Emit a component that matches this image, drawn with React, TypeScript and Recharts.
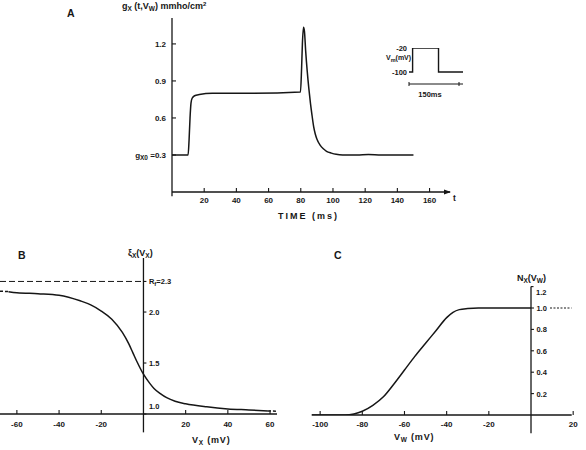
import React from 'react';
import { LineChart, Line, XAxis, YAxis, ReferenceLine, ReferenceDot } from 'recharts';

const INK = '#161616';
const FONT = '"Liberation Sans", Arial, sans-serif';

// A: g_X(t) during a clamp step to -20 mV
const aTime = [0, 10, 10.6, 11.2, 11.8, 12.5, 14, 17, 25, 50, 79.8, 80.5, 81, 81.7, 82.3, 83, 84, 85, 86, 87, 88, 89, 90, 92, 94, 96, 99, 102, 106, 115, 122, 130, 150];
const aG = [0.3, 0.3, 0.42, 0.6, 0.72, 0.76, 0.78, 0.79, 0.8, 0.8, 0.81, 1.0, 1.2, 1.335, 1.3, 1.15, 0.98, 0.84, 0.72, 0.62, 0.53, 0.47, 0.43, 0.38, 0.35, 0.33, 0.315, 0.305, 0.3, 0.3, 0.303, 0.3, 0.3];
const aTicksX = [20, 40, 60, 80, 100, 120, 140, 160];
const aTicksY = [0.3, 0.6, 0.9, 1.2];

// inset: voltage protocol
const stepTime = [0, 10, 10, 82, 82, 150];
const stepVm = [-100, -100, -20, -20, -100, -100];

// B: xi_X(V_X)
const bVx = [-64, -60, -50, -40, -30, -25, -20, -15, -10, -7, -5, -3, 0, 3, 5, 8, 11, 15, 20, 30, 40, 50, 59];
const bXi = [2.2, 2.19, 2.18, 2.165, 2.11, 2.07, 2.01, 1.93, 1.8, 1.69, 1.6, 1.51, 1.39, 1.3, 1.25, 1.2, 1.16, 1.125, 1.1, 1.07, 1.05, 1.04, 1.03];
const bLeftVx = [-68, -64];
const bLeftXi = [2.205, 2.2];
const bRightVx = [59, 63];
const bRightXi = [1.03, 1.028];
const bTicksX = [-60, -40, -20, 20, 40, 60];
const bTicksY = [1.5, 2.0];
const bRf = 2.3;

// C: N_X(V_W)
const cVw = [-104, -88, -84, -80, -75, -70, -65, -60, -55, -50, -45, -40, -37, -34, -30, -25, -20, 0];
const cN = [0, 0, 0.01, 0.035, 0.09, 0.17, 0.29, 0.42, 0.55, 0.67, 0.79, 0.91, 0.96, 0.985, 0.995, 1.0, 1.0, 1.0];
const cTailVw = [9, 19.3];
const cTailN = [1.0, 1.0];
const cTicksX = [-100, -80, -60, -40, -20, 20];
const cTicksY = [0.2, 0.4, 0.6, 0.8, 1.0];

const zip = (xs: number[], ys: number[]) => xs.map((x, i) => ({ x, y: ys[i] }));

const txt = { fontFamily: FONT, fill: INK, fontWeight: 600 };

const makeBottomTick = (gap: number) => (props: any) => {
  const { x, y, payload } = props;
  return (
    <g>
      <line x1={x} y1={y} x2={x} y2={y - 4} stroke={INK} strokeWidth={1.1} />
      <text x={x} y={y + gap} textAnchor="middle" fontSize={8} {...txt}>
        {payload.value}
      </text>
    </g>
  );
};

const ATickY = (props: any) => {
  const { x, y, payload } = props;
  return (
    <g>
      <line x1={x} y1={y} x2={x + 4} y2={y} stroke={INK} strokeWidth={1.1} />
      <text x={x - 6} y={y + 3} textAnchor="end" fontSize={8} {...txt}>
        {payload.value === 0.3 ? (
          <>
            g<tspan dy={2} fontSize={6.5}>X0</tspan>
            <tspan dy={-2}> =0.3</tspan>
          </>
        ) : (
          payload.value.toFixed(1)
        )}
      </text>
    </g>
  );
};

const SideLabel = (props: any) => {
  const { viewBox, text, dy = 0, sub } = props;
  const x = viewBox.x + viewBox.width + 2.5;
  const y = viewBox.y + viewBox.height / 2 + 3 + dy;
  return (
    <text x={x} y={y} fontSize={7.5} {...txt}>
      {sub ? (
        <>
          R<tspan dy={2} fontSize={6}>f</tspan>
          <tspan dy={-2}>=2.3</tspan>
        </>
      ) : (
        text
      )}
    </text>
  );
};

const ArrowHead = (props: any) => {
  const { cx, cy } = props;
  return (
    <g>
      <path d={`M${cx - 6},${cy - 2.5}L${cx + 1},${cy}L${cx - 6},${cy + 2.5}Z`} fill={INK} />
      <text x={cx + 3} y={cy + 9} fontSize={8.5} {...txt}>
        t
      </text>
    </g>
  );
};

const lineProps = {
  type: 'monotone' as const,
  dataKey: 'y',
  stroke: INK,
  strokeWidth: 1.5,
  dot: false,
  isAnimationActive: false,
};

export default function App() {
  const aData = zip(aTime, aG);
  const stepData = zip(stepTime, stepVm);

  return (
    <div style={{ position: 'absolute', left: 0, top: 0, width: 586, height: 450, background: '#fff', fontFamily: FONT }}>
      {/* panel A */}
      <LineChart width={586} height={230} data={aData} margin={{ top: 18, right: 136, left: 112, bottom: 8 }} style={{ position: 'absolute', left: 0, top: 0 }}>
        <XAxis
          type="number"
          dataKey="x"
          domain={[0, 172.7]}
          allowDataOverflow
          ticks={aTicksX}
          height={30}
          axisLine={{ stroke: INK, strokeWidth: 1.3 }}
          tickLine={false}
          tickSize={0}
          tickMargin={0}
          tick={makeBottomTick(11)}
        />
        <YAxis
          type="number"
          domain={[0, 1.41]}
          allowDataOverflow
          ticks={aTicksY}
          width={60}
          axisLine={{ stroke: INK, strokeWidth: 1.3 }}
          tickLine={false}
          tickSize={0}
          tickMargin={0}
          tick={ATickY}
        />
        <ReferenceLine segment={[{ x: 0, y: -0.035 }, { x: 0, y: 0 }]} stroke={INK} strokeWidth={1.3} ifOverflow="visible" />
        <ReferenceDot x={172.7} y={0} r={0} ifOverflow="visible" shape={ArrowHead} />
        <Line {...lineProps} />
        <text x={67} y={17} fontSize={10.5} {...txt} fontWeight="bold">A</text>
        <text x={122} y={9} fontSize={9} {...txt}>
          g<tspan dy={2} fontSize={6.5}>X</tspan>
          <tspan dy={-2}> (t,V</tspan>
          <tspan dy={2} fontSize={6.5}>W</tspan>
          <tspan dy={-2}>) mmho/cm</tspan>
          <tspan dy={-3} fontSize={6}>2</tspan>
        </text>
        <text x={278} y={219} fontSize={9} letterSpacing={2} {...txt}>TIME (ms)</text>
      </LineChart>

      {/* inset: voltage step */}
      <LineChart width={110} height={75} data={stepData} margin={{ top: 18, right: 8, left: 0, bottom: 1 }} style={{ position: 'absolute', left: 361, top: 30 }}>
        <XAxis
          type="number"
          dataKey="x"
          domain={[0, 150]}
          allowDataOverflow
          ticks={[0, 150]}
          height={20}
          axisLine={{ stroke: INK, strokeWidth: 1 }}
          tickLine={false}
          tickSize={0}
          tickMargin={0}
          tick={(p: any) => <line x1={p.x} y1={p.y - 2} x2={p.x} y2={p.y + 2} stroke={INK} />}
          label={{
            content: (p: any) => (
              <text x={p.viewBox.x + p.viewBox.width / 2 - 6} y={p.viewBox.y + 13} textAnchor="middle" fontSize={7.5} {...txt}>
                150ms
              </text>
            ),
          }}
        />
        <YAxis
          type="number"
          domain={[-140, -20]}
          allowDataOverflow
          ticks={[-100, -20]}
          width={48}
          axisLine={false}
          tickLine={false}
          tickSize={0}
          tickMargin={2}
          tick={{ fontSize: 7.5, fill: INK, fontFamily: FONT, fontWeight: 600 }}
          label={{
            content: (p: any) => (
              <text x={p.viewBox.x + 25} y={p.viewBox.y + 12} fontSize={7} {...txt}>
                V<tspan dy={2} fontSize={5.5}>m</tspan>
                <tspan dy={-2}>(mV)</tspan>
              </text>
            ),
          }}
        />
        <Line {...lineProps} type="linear" strokeWidth={1.4} />
      </LineChart>

      {/* panel B */}
      <LineChart width={300} height={210} margin={{ top: 18, right: 23, left: 0, bottom: 6 }} style={{ position: 'absolute', left: 0, top: 240 }}>
        <XAxis
          type="number"
          dataKey="x"
          domain={[-68, 63.3]}
          allowDataOverflow
          ticks={bTicksX}
          height={30}
          axisLine={{ stroke: INK, strokeWidth: 1.3 }}
          tickLine={false}
          tickSize={0}
          tickMargin={0}
          tick={makeBottomTick(13)}
        />
        <YAxis type="number" domain={[1.0, 2.53]} allowDataOverflow hide width={0} />
        <ReferenceLine segment={[{ x: 0, y: 0.82 }, { x: 0, y: 2.53 }]} stroke={INK} strokeWidth={1.3} ifOverflow="visible" />
        {bTicksY.map((v) => (
          <ReferenceLine key={v} segment={[{ x: 0, y: v }, { x: 1.4, y: v }]} stroke={INK} strokeWidth={1.1} label={<SideLabel text={v.toFixed(1)} />} />
        ))}
        <ReferenceLine segment={[{ x: 0, y: 1.0 }, { x: 1.4, y: 1.0 }]} stroke={INK} label={<SideLabel text="1.0" dy={-8} />} />
        <ReferenceLine segment={[{ x: -68, y: bRf }, { x: 0, y: bRf }]} stroke={INK} strokeWidth={1} strokeDasharray="6 3" />
        <ReferenceLine segment={[{ x: 0, y: bRf }, { x: 1.4, y: bRf }]} stroke={INK} strokeWidth={1.1} label={<SideLabel sub />} />
        <Line {...lineProps} data={zip(bVx, bXi)} />
        <Line {...lineProps} data={zip(bLeftVx, bLeftXi)} strokeDasharray="3 2" />
        <Line {...lineProps} data={zip(bRightVx, bRightXi)} strokeDasharray="3 2" />
        <text x={18} y={19} fontSize={10.5} {...txt} fontWeight="bold">B</text>
        <text x={128} y={16} fontSize={9} {...txt}>
          ξ<tspan dy={2} fontSize={6.5}>X</tspan>
          <tspan dy={-2}>(V</tspan>
          <tspan dy={2} fontSize={6.5}>X</tspan>
          <tspan dy={-2}>)</tspan>
        </text>
        <text x={192} y={203} fontSize={9} letterSpacing={0.8} {...txt}>
          V<tspan dy={2} fontSize={6.5}>X</tspan>
          <tspan dy={-2}>  (mV)</tspan>
        </text>
      </LineChart>

      {/* panel C */}
      <LineChart width={296} height={210} margin={{ top: 46.6, right: 14.3, left: 21.7, bottom: 5 }} style={{ position: 'absolute', left: 290, top: 240 }}>
        <XAxis
          type="number"
          dataKey="x"
          domain={[-104, 19.3]}
          allowDataOverflow
          ticks={cTicksX}
          height={30}
          axisLine={{ stroke: INK, strokeWidth: 1.3 }}
          tickLine={false}
          tickSize={0}
          tickMargin={0}
          tick={makeBottomTick(12)}
        />
        <YAxis type="number" domain={[0, 1.2]} allowDataOverflow hide width={0} />
        <ReferenceLine segment={[{ x: 0, y: -0.17 }, { x: 0, y: 1.2 }]} stroke={INK} strokeWidth={1.3} ifOverflow="visible" />
        {cTicksY.map((v) => (
          <ReferenceLine key={v} segment={[{ x: 0, y: v }, { x: 1.4, y: v }]} stroke={INK} strokeWidth={1.1} label={<SideLabel text={v.toFixed(1)} />} />
        ))}
        <ReferenceLine segment={[{ x: 0, y: 1.2 }, { x: 1.2, y: 1.2 }]} stroke={INK} strokeWidth={1.1} label={<SideLabel text="1.2" dy={5} />} />
        <Line {...lineProps} data={zip(cVw, cN)} />
        <Line {...lineProps} data={zip(cTailVw, cTailN)} strokeWidth={1.1} strokeDasharray="2 1.5" />
        <text x={44} y={19} fontSize={10.5} {...txt} fontWeight="bold">C</text>
        <text x={227} y={41} fontSize={9} {...txt}>
          N<tspan dy={2} fontSize={6.5}>X</tspan>
          <tspan dy={-2}>(V</tspan>
          <tspan dy={2} fontSize={6.5}>W</tspan>
          <tspan dy={-2}>)</tspan>
        </text>
        <text x={104} y={200} fontSize={9} letterSpacing={0.8} {...txt}>
          V<tspan dy={2} fontSize={6.5}>W</tspan>
          <tspan dy={-2}>  (mV)</tspan>
        </text>
      </LineChart>
    </div>
  );
}
